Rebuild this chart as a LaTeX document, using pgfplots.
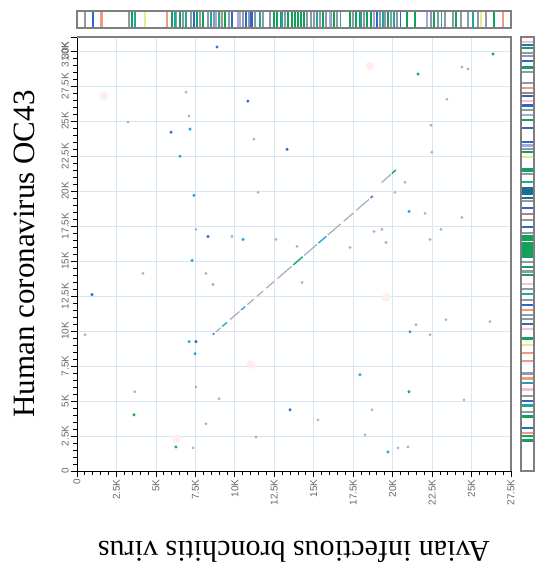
\documentclass[border=0pt]{standalone}
\usepackage{fontspec}
\setmainfont{Liberation Serif}
\newfontfamily\tickfont{Liberation Sans}
\usepackage{pgfplots}
\pgfplotsset{compat=1.18}

\definecolor{gridc}{HTML}{D6E6F5}
\definecolor{framec}{HTML}{7F7F7F}
\definecolor{sgray}{HTML}{8E9BA6}
\definecolor{sgreen}{HTML}{12A05A}
\definecolor{steal}{HTML}{1FA6A0}
\definecolor{sdteal}{HTML}{1A6E90}
\definecolor{sblue}{HTML}{2C68C8}
\definecolor{spurple}{HTML}{A6A8E0}
\definecolor{ssalmon}{HTML}{F29A80}
\definecolor{spink}{HTML}{F4C4CC}
\definecolor{syellow}{HTML}{E4EC8C}
\definecolor{sbrown}{HTML}{A08878}
\definecolor{linegray}{HTML}{A4AEB8}
\definecolor{dotblue}{HTML}{2F6FD8}
\definecolor{dotcyan}{HTML}{2AA8D8}
\definecolor{dotgreen}{HTML}{18A868}
\definecolor{dotgray}{HTML}{A8B4BE}
\definecolor{blob}{HTML}{FDF0EC}

\begin{document}
\begin{tikzpicture}
\path[use as bounding box] (-38.5pt,-52.5pt) rectangle (229.5pt,235.5pt);

% dot plot
\begin{axis}[
at={(0pt,0pt)},anchor=south west,
scale only axis,width=217pt,height=217pt,
xmin=0,xmax=27500,ymin=0,ymax=31000,
scaled x ticks=false,scaled y ticks=false,
axis lines*=left,axis line style={-,black,line width=0.5pt},
tick align=outside,major tick length=3pt,minor tick length=2pt,
tick style={black,line width=0.4pt},
xtick={0,2500,...,27500},
xticklabels={0,2.5K,5K,7.5K,10K,12.5K,15K,17.5K,20K,22.5K,25K,27.5K},
ytick={0,2500,...,30000},
yticklabels={0,2.5K,5K,7.5K,10K,12.5K,15K,17.5K,20K,22.5K,25K,27.5K,30K},
minor x tick num=4,minor y tick num=4,
extra y ticks={31000},extra y tick labels={31.0K},
extra y tick style={grid=none,yticklabel style={anchor=south east,xshift=-1pt}},
ticklabel style={font=\tickfont\fontsize{5}{6}\selectfont,text=black!60},
xticklabel style={rotate=90,anchor=east,inner sep=1pt},
yticklabel style={rotate=90,anchor=south,inner sep=1pt},
xmajorgrids,ymajorgrids,
major grid style={gridc,line width=0.4pt},
xlabel={Avian infectious bronchitis virus},
ylabel={Human coronavirus OC43},
every axis x label/.style={at={(axis description cs:0.5,-0.187)},rotate=180,anchor=center,font=\fontsize{15}{18}\selectfont},
every axis y label/.style={at={(axis description cs:-0.122,0.5)},rotate=90,anchor=center,font=\fontsize{15.5}{18}\selectfont},
unbounded coords=jump]
% faint blobs
\addplot[only marks,mark=*,mark size=2pt,blob,mark options={draw=none}] coordinates {
(1700,26800) (18560,28930) (11000,7600) (19600,12400) (6300,2300)};
% main diagonal
\addplot[no marks,linegray,line width=0.6pt] coordinates {
(8800,9935) (9100,10228) (nan,nan)
(9700,10813) (10300,11399) (nan,nan)
(10800,11887) (11200,12277) (nan,nan)
(11400,12472) (11800,12863) (nan,nan)
(12000,13058) (12500,13546) (nan,nan)
(12700,13741) (13600,14620) (nan,nan)
(14400,15400) (15200,16181) (nan,nan)
(15900,16864) (16700,17645) (nan,nan)
(16900,17840) (17500,18426) (nan,nan)
(17700,18621) (18500,19402) (nan,nan)
(19300,20600) (19900,21200)};
\addplot[no marks,dotcyan,line width=0.7pt] coordinates {
(9200,10325) (9500,10618) (nan,nan)
(10400,11496) (10650,11740) (nan,nan)
(15300,16279) (15800,16767)};
\addplot[no marks,dotgreen,line width=0.7pt] coordinates {
(13700,14717) (14300,15303) (nan,nan)
(19950,21250) (20200,21500)};
\addplot[no marks,dotblue,line width=0.7pt] coordinates {
(8600,9740) (8700,9837) (nan,nan)
(18600,19500) (18750,19646)};
% scattered hits
\addplot[only marks,mark=*,mark size=0.5pt,dotgray] coordinates {
(24390,28850) (24770,28710) (6910,27060) (3230,24920) (7100,25350) (22430,24700)
(23440,26560) (22490,22770) (11470,19900) (20150,19900) (7540,17260) (9820,16750)
(12610,16540) (13940,16040) (17300,15970) (18820,17110) (19320,17260) (19580,16320)
(14260,13460) (4180,14110) (8170,14110) (8620,13320) (510,9740) (7540,6010)
(3670,5660) (9000,5160) (8170,3370) (11340,2430) (15270,3650) (18250,2580)
(22370,9740) (21480,10450) (23380,10810) (26170,10670) (18690,4370) (20340,1650)
(20970,1720) (7350,1650) (24520,5080) (22370,16540) (23060,17260) (24390,18110)
(20780,20620) (22050,18400) (11210,23700)};
\addplot[only marks,mark=*,mark size=0.55pt,dotcyan] coordinates {
(7160,24420) (6530,22480) (7410,19690) (10520,16540) (7290,15040) (7100,9240)
(7480,8380) (17930,6870) (21100,9950) (19700,1360) (21040,18540)};
\addplot[only marks,mark=*,mark size=0.55pt,dotblue] coordinates {
(8870,30290) (10830,26420) (5960,24200) (13310,22980) (8300,16750) (950,12600)
(7540,9240) (13500,4370)};
\addplot[only marks,mark=*,mark size=0.55pt,dotgreen] coordinates {
(26360,29780) (21610,28350) (3610,4010) (21040,5660) (6270,1720)};
\end{axis}
\draw[framec,line width=0.6pt] (0pt,217pt) -- (217pt,217pt) -- (217pt,0pt);

% top annotation bar
\begin{axis}[
at={(0pt,221.5pt)},anchor=south west,
scale only axis,width=217pt,height=8.5pt,
xmin=0,xmax=27500,ymin=0,ymax=1,
ticks=none,axis on top,
axis line style={framec,line width=0.6pt}]
\addplot[ycomb,sgray,line width=1pt] coordinates {
(500,1) (3300,1) (6300,1) (6700,1) (7200,1) (7800,1) (8300,1) (8700,1) (9200,1) (9600,1)
(10500,1) (10900,1) (11300,1) (11800,1) (12200,1) (13200,1) (14600,1) (14800,1) (15000,1)
(15400,1) (15800,1) (16100,1) (16500,1) (17500,1) (18200,1) (19200,1) (19500,1) (19900,1)
(20300,1) (22400,1) (22900,1) (23300,1) (23800,1) (24300,1) (24800,1) (25400,1) (25900,1)};
\addplot[ycomb,sgreen,line width=1pt] coordinates {
(3500,1) (6000,1) (6500,1) (7600,1) (8000,1) (9400,1) (12500,1) (12700,1) (12900,1)
(13400,1) (13600,1) (13800,1) (14000,1) (14200,1) (14400,1) (15600,1) (16300,1) (17300,1)
(17700,1) (17900,1) (18400,1) (18600,1) (19700,1) (20900,1) (21400,1) (22600,1) (24000,1)
(26400,1)};
\addplot[ycomb,steal,line width=0.9pt] coordinates {
(3700,1) (6200,1) (6900,1) (8500,1) (9000,1) (11600,1) (13000,1) (15200,1) (16700,1)
(18000,1) (19400,1) (20100,1) (23100,1) (25100,1)};
\addplot[ycomb,sblue,line width=0.9pt] coordinates {
(1000,1) (7400,1) (9800,1) (10700,1) (11000,1) (11100,1) (19000,1) (20500,1)};
\addplot[ycomb,spurple,line width=1pt] coordinates {
(8800,1) (10200,1) (10300,1) (16000,1) (18800,1) (22200,1)};
\addplot[ycomb,ssalmon,line width=1pt] coordinates {
(1500,1) (1600,1) (5700,1) (27000,1)};
\addplot[ycomb,syellow,line width=0.8pt] coordinates {
(4300,1) (9100,1) (25600,1)};
\end{axis}

% right annotation bar
\begin{axis}[
at={(222pt,0pt)},anchor=south west,
scale only axis,width=6.5pt,height=217pt,
xmin=0,xmax=1,ymin=0,ymax=31000,
ticks=none,axis on top,
axis line style={framec,line width=0.6pt}]
\addplot[xcomb,sgray,line width=1.1pt] coordinates {
(1,29860) (1,29630) (1,28490) (1,27700) (1,25760) (1,23020) (1,21200) (1,19260) (1,17900)
(1,16980) (1,14930) (1,14250) (1,13000) (1,12200) (1,11170) (1,10830) (1,6960) (1,5360)
(1,4220)};
\addplot[xcomb,sgreen,line width=1.2pt] coordinates {
(1,30200) (1,28830) (1,25070) (1,22800) (1,21540) (1,21440) (1,16800) (1,16640) (1,16500)
(1,16300) (1,16150) (1,15960) (1,15800) (1,15620) (1,15450) (1,15270) (1,14590) (1,14020)
(1,9460) (1,3880) (1,2510) (1,2170)};
\addplot[xcomb,sblue,line width=1.1pt] coordinates {
(1,30430) (1,29290) (1,26780) (1,26100) (1,24500) (1,23480) (1,18810) (1,17440) (1,11860)
(1,10490) (1,5020) (1,3080)};
\addplot[xcomb,steal,line width=1.1pt] coordinates {
(1,20630) (1,12650) (1,6270) (1,4680)};
\addplot[xcomb,sdteal,line width=1.2pt] coordinates {
(1,20170) (1,19960) (1,19830) (1,19490)};
\addplot[xcomb,spink,line width=1.1pt] coordinates {
(1,30660) (1,26440) (1,13340) (1,10150) (1,5820)};
\addplot[xcomb,ssalmon,line width=1.1pt] coordinates {
(1,27350) (1,11510) (1,8440) (1,7870) (1,6610) (1,2740)};
\addplot[xcomb,spurple,line width=1.1pt] coordinates {
(1,25420) (1,23250)};
\addplot[xcomb,sbrown,line width=1.1pt] coordinates {
(1,27010) (1,18350)};
\addplot[xcomb,syellow,line width=1.1pt] coordinates {
(1,22450) (1,9010)};
\end{axis}
\end{tikzpicture}
\end{document}
